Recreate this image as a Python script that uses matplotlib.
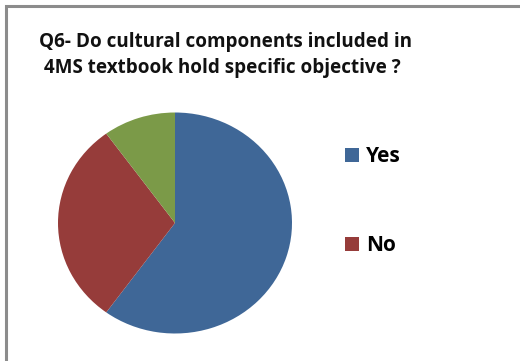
import matplotlib
matplotlib.use("Agg")
import matplotlib.pyplot as plt
from matplotlib.patches import Rectangle

categories = ["Yes", "No", ""]
values = [60, 30, 10]
colors = ["#3F6797", "#963C3A", "#7B9A48"]
title_lines = ["Q6- Do cultural components included in",
               " 4MS textbook hold specific objective ?"]

W, H = 520, 361
fig = plt.figure(figsize=(W / 100, H / 100), dpi=100)
fig.patch.set_facecolor("white")

# frame border
fig.add_artist(Rectangle((6 / W, -0.01), 1.1, (H - 6) / H + 0.01, transform=fig.transFigure,
                         fill=False, edgecolor="#8C8C8C", linewidth=2.2))

# pie axes: x [-1,1] -> px 58..292 ; y [-1,1] -> px 112.5..333.5 from top
left, right = 58, 292
top, bottom = 112.5, 333.5
ax = fig.add_axes([left / W, (H - bottom) / H, (right - left) / W, (bottom - top) / H])
wedges, _ = ax.pie(values, colors=colors, startangle=90, counterclock=False,
                   radius=1.0, wedgeprops=dict(linewidth=0))
ax.set_aspect("auto")
ax.set_xlim(-1, 1)
ax.set_ylim(-1, 1)
ax.axis("off")

for line, base in zip(title_lines, [46.5, 72.7]):
    fig.text(39 / W, 1 - base / H, line, ha="left", va="baseline", fontsize=13.6,
             fontweight="bold", family="Open Sans", color="#111111")

leg = fig.legend(wedges[:2], categories[:2], loc="upper left",
                 bbox_to_anchor=(345 / W, 1 - 146 / H), frameon=False,
                 prop=dict(family="Open Sans", weight="bold", size=15),
                 handlelength=0.65, handleheight=0.65, handletextpad=0.35,
                 labelspacing=3.28, borderaxespad=0, borderpad=0)

fig.savefig("out.png", dpi=100, facecolor="white")
